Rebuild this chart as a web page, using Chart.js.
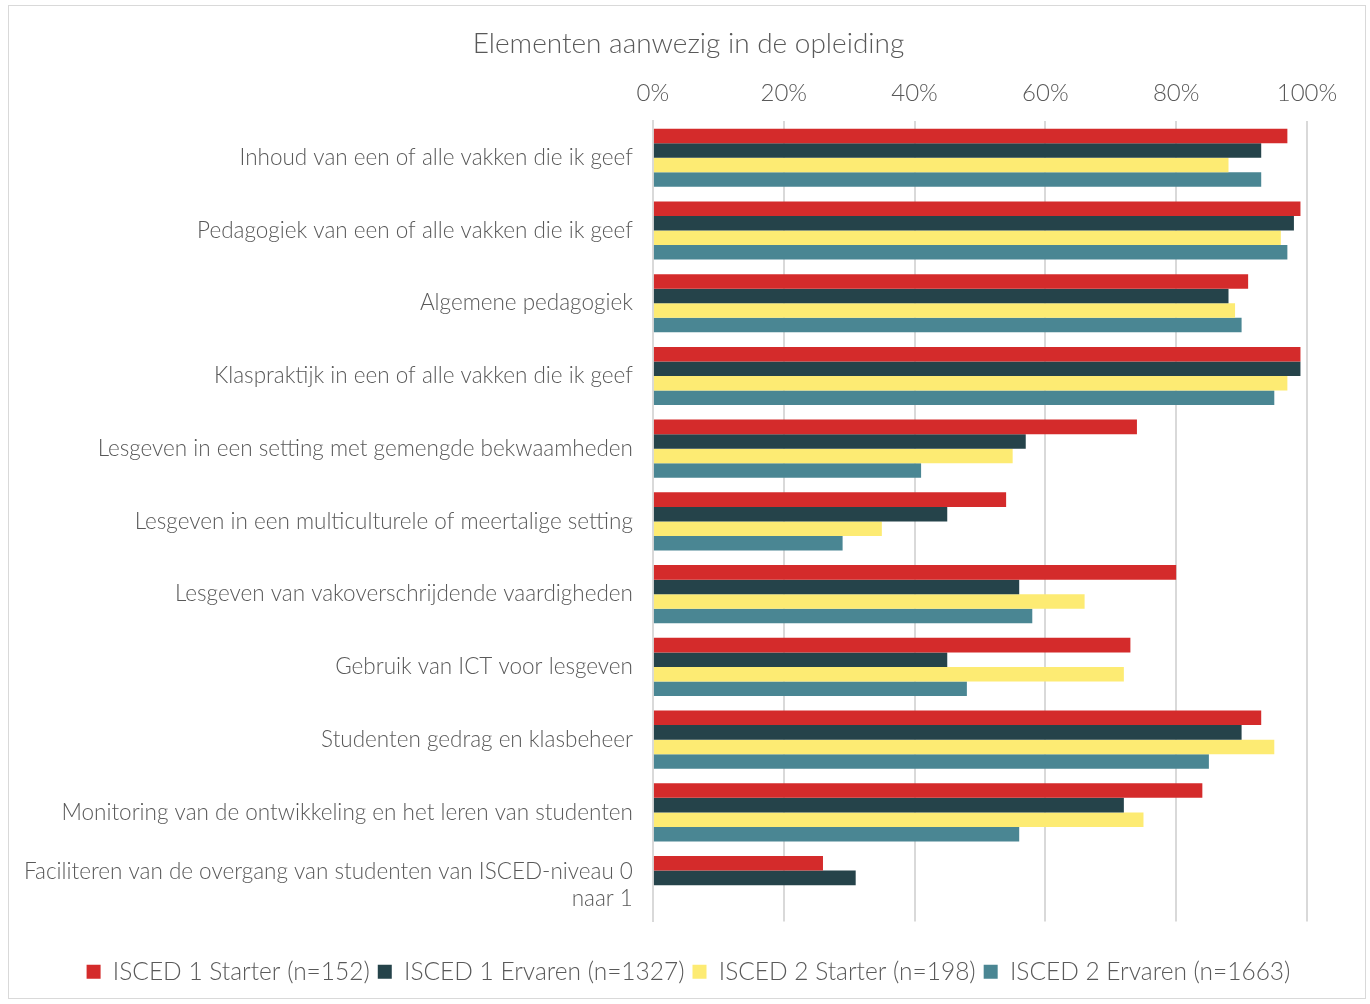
<!DOCTYPE html>
<html>
<head>
<meta charset="utf-8">
<script src="https://cdn.jsdelivr.net/npm/chart.js@4/dist/chart.umd.min.js"></script>
<style>
  body { margin: 0; background: #fff; }
  #wrap { position: absolute; left: 8px; top: 5px; width: 1358px; height: 994px; border: 1px solid #d9d9d9; box-sizing: border-box; }
</style>
</head>
<body>
<div id="wrap"><canvas id="dataChart"></canvas></div>
<script>
var categories = [
    'Inhoud van een of alle vakken die ik geef',
    'Pedagogiek van een of alle vakken die ik geef',
    'Algemene pedagogiek',
    'Klaspraktijk in een of alle vakken die ik geef',
    'Lesgeven in een setting met gemengde bekwaamheden',
    'Lesgeven in een multiculturele of meertalige setting',
    'Lesgeven van vakoverschrijdende vaardigheden',
    'Gebruik van ICT voor lesgeven',
    'Studenten gedrag en klasbeheer',
    'Monitoring van de ontwikkeling en het leren van studenten',
    ['Faciliteren van de overgang van studenten van ISCED-niveau 0', 'naar 1']
];
var isced1Starter = [97, 99, 91, 99, 74, 54, 80, 73, 93, 84, 26];
var isced1Ervaren = [93, 98, 88, 99, 57, 45, 56, 45, 90, 72, 31];
var isced2Starter = [88, 96, 89, 97, 55, 35, 66, 72, 95, 75, null];
var isced2Ervaren = [93, 97, 90, 95, 41, 29, 58, 48, 85, 56, null];
var xTicks = [0, 20, 40, 60, 80, 100];

var textColor = '#595959';
var fontName = 'Lato, "Open Sans", sans-serif';

function ds(label, data, color) {
    return {
        label: label,
        data: data,
        backgroundColor: color,
        borderColor: color,
        borderWidth: 0,
        categoryPercentage: 0.8,
        barPercentage: 1.0
    };
}

var dataChart = new Chart(document.getElementById('dataChart'), {
    type: 'bar',
    data: {
        labels: categories,
        datasets: [
            ds('ISCED 1 Starter (n=152)', isced1Starter, '#d42b2b'),
            ds('ISCED 1 Ervaren (n=1327)', isced1Ervaren, '#25434a'),
            ds('ISCED 2 Starter (n=198)', isced2Starter, '#fdeb73'),
            ds('ISCED 2 Ervaren (n=1663)', isced2Ervaren, '#4a8693')
        ]
    },
    options: {
        indexAxis: 'y',
        responsive: true,
        maintainAspectRatio: false,
        animation: false,
        layout: { padding: { left: 3, right: 0, top: 6, bottom: 4 } },
        plugins: {
            title: {
                display: true,
                text: 'Elementen aanwezig in de opleiding',
                color: textColor,
                font: { family: fontName, size: 28, weight: 300 },
                padding: { top: 15, bottom: 4 }
            },
            legend: {
                position: 'bottom',
                title: {
                    display: true,
                    text: ' ',
                    font: { size: 10 },
                    padding: { top: 18, bottom: 0 }
                },
                labels: {
                    color: textColor,
                    font: { family: fontName, size: 24.5, weight: 300 },
                    boxWidth: 14,
                    boxHeight: 14,
                    padding: 8
                }
            },
            tooltip: { enabled: false }
        },
        scales: {
            x: {
                position: 'top',
                min: 0,
                max: 100,
                afterBuildTicks: function(axis) {
                    axis.ticks = xTicks.map(function(v) { return { value: v }; });
                },
                afterFit: function(axis) {
                    axis.paddingRight = 58;
                },
                ticks: {
                    color: textColor,
                    font: { family: fontName, size: 24, weight: 300 },
                    padding: 14,
                    callback: function(v) { return v + '%'; }
                },
                grid: { color: '#d9d9d9', lineWidth: 2, drawTicks: false },
                border: { display: false }
            },
            y: {
                ticks: {
                    color: textColor,
                    font: { family: fontName, size: 22.5, weight: 300 },
                    padding: 12
                },
                grid: { display: false },
                border: { display: true, color: '#d9d9d9', width: 2 }
            }
        }
    }
});
</script>
</body>
</html>
